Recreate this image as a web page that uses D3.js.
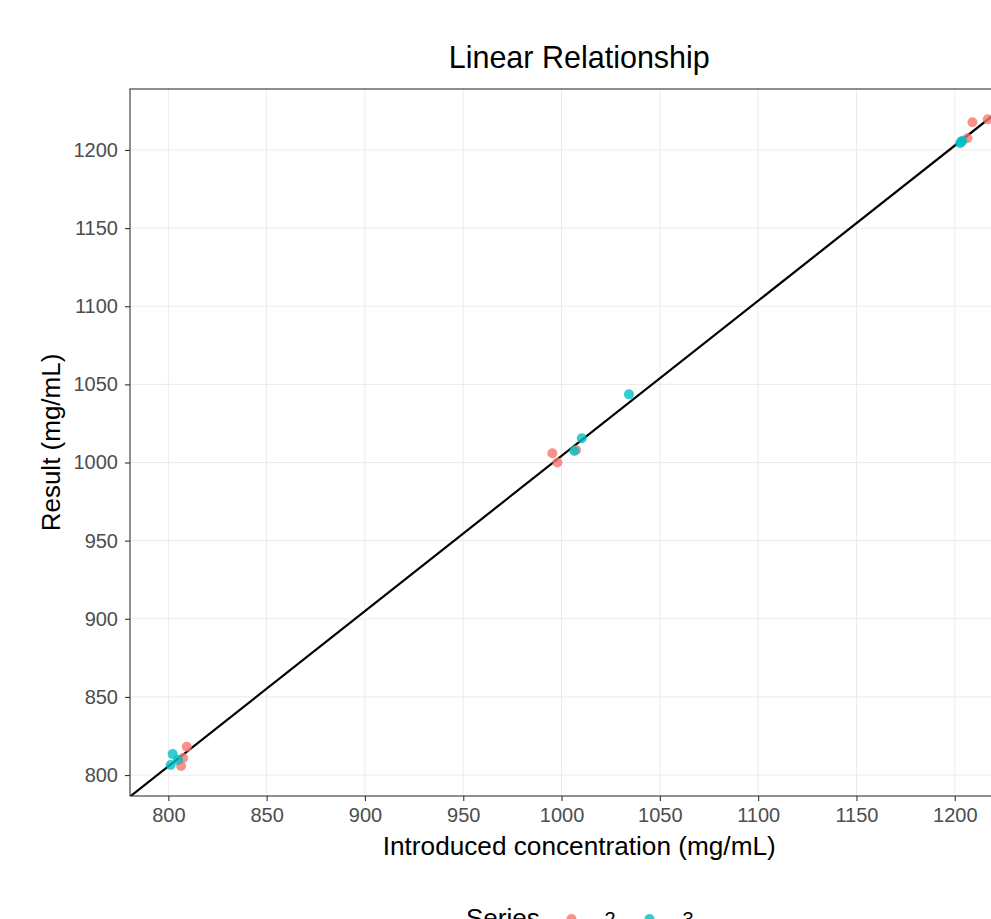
<!DOCTYPE html>
<html>
<head>
<meta charset="utf-8">
<script src="https://cdn.jsdelivr.net/npm/d3@7"></script>
<style>
  html, body { margin: 0; padding: 0; background: #fff; overflow: hidden; }
  svg { display: block; font-family: "Liberation Sans", Arial, sans-serif; }
</style>
</head>
<body>
<div id="chart"></div>
<script>
// Linear relationship scatter — introduced vs. measured concentration

const series = ['2', '3'];
const seriesColors = ['#F8766D', '#00BFC4'];

// introduced concentration (x) and result (y), per series
const series2X = [809.4, 807.5, 806.5, 995.3, 997.9, 1007.4, 1206.4, 1209.0, 1216.8];
const series2Y = [818.1, 810.9, 805.8, 1005.9, 1000.0, 1008.0, 1207.5, 1217.7, 1219.6];
const series3X = [802.2, 804.9, 801.2, 1006.5, 1010.3, 1034.3, 1202.7, 1203.3, 1203.8];
const series3Y = [813.4, 809.6, 806.4, 1007.4, 1015.5, 1043.6, 1204.3, 1205.2, 1205.8];

// fitted line
const fitIntercept = 11.2;
const fitSlope = 0.993;

const xTicks = [800, 850, 900, 950, 1000, 1050, 1100, 1150, 1200];
const yTicks = [800, 850, 900, 950, 1000, 1050, 1100, 1150, 1200];

const width = 1070, height = 919;
const panel = { left: 130, right: 1028.5, top: 89, bottom: 796 };

const svg = d3.select('#chart').append('svg')
  .attr('width', width)
  .attr('height', height);

const x = d3.scaleLinear().domain([780.5, 1237.5]).range([panel.left, panel.right]);
const y = d3.scaleLinear().domain([786.6, 1239]).range([panel.bottom, panel.top]);

svg.append('defs').append('clipPath').attr('id', 'panel-clip')
  .append('rect')
  .attr('x', panel.left).attr('y', panel.top)
  .attr('width', panel.right - panel.left).attr('height', panel.bottom - panel.top);

// grid
const grid = svg.append('g');
grid.selectAll('.gx').data(xTicks).join('line')
  .attr('x1', d => x(d)).attr('x2', d => x(d))
  .attr('y1', panel.top).attr('y2', panel.bottom)
  .attr('stroke', '#EBEBEB').attr('stroke-width', 1);
grid.selectAll('.gy').data(yTicks).join('line')
  .attr('x1', panel.left).attr('x2', panel.right)
  .attr('y1', d => y(d)).attr('y2', d => y(d))
  .attr('stroke', '#EBEBEB').attr('stroke-width', 1);

// fit line
const plot = svg.append('g').attr('clip-path', 'url(#panel-clip)');
const xd = x.domain();
plot.append('line')
  .attr('x1', x(xd[0])).attr('y1', y(fitIntercept + fitSlope * xd[0]))
  .attr('x2', x(xd[1])).attr('y2', y(fitIntercept + fitSlope * xd[1]))
  .attr('stroke', '#000').attr('stroke-width', 2.2);

// points
const points = [
  ...series2X.map((v, i) => ({ s: 0, x: v, y: series2Y[i] })),
  ...series3X.map((v, i) => ({ s: 1, x: v, y: series3Y[i] }))
];
plot.selectAll('circle').data(points).join('circle')
  .attr('cx', d => x(d.x))
  .attr('cy', d => y(d.y))
  .attr('r', 5)
  .attr('fill', d => seriesColors[d.s])
  .attr('fill-opacity', 0.8);

// panel border
svg.append('rect')
  .attr('x', panel.left).attr('y', panel.top)
  .attr('width', panel.right - panel.left).attr('height', panel.bottom - panel.top)
  .attr('fill', 'none').attr('stroke', '#333333').attr('stroke-width', 1.1);

// axes
const xAxis = svg.append('g')
  .attr('transform', `translate(0,${panel.bottom})`)
  .call(d3.axisBottom(x).tickValues(xTicks).tickFormat(d3.format('d')).tickSize(5).tickPadding(7));
const yAxis = svg.append('g')
  .attr('transform', `translate(${panel.left},0)`)
  .call(d3.axisLeft(y).tickValues(yTicks).tickFormat(d3.format('d')).tickSize(5).tickPadding(7));
[xAxis, yAxis].forEach(a => {
  a.select('.domain').remove();
  a.selectAll('.tick line').attr('stroke', '#333333').attr('stroke-width', 1.1);
  a.selectAll('.tick text')
    .attr('fill', '#4D4D4D')
    .attr('font-size', 20)
    .attr('font-family', '"Liberation Sans", Arial, sans-serif');
});

// titles
svg.append('text')
  .attr('x', (panel.left + panel.right) / 2).attr('y', 68)
  .attr('text-anchor', 'middle').attr('font-size', 30.5)
  .text('Linear Relationship');

svg.append('text')
  .attr('x', (panel.left + panel.right) / 2).attr('y', 855)
  .attr('text-anchor', 'middle').attr('font-size', 26.2)
  .text('Introduced concentration (mg/mL)');

svg.append('text')
  .attr('transform', `translate(59.5,${(panel.top + panel.bottom) / 2}) rotate(-90)`)
  .attr('text-anchor', 'middle').attr('font-size', 26)
  .text('Result (mg/mL)');

// legend (bottom)
const legend = svg.append('g');
legend.append('text')
  .attr('x', 466).attr('y', 927).attr('font-size', 26)
  .text('Series');
const keyX = [571.5, 649.5];
series.forEach((s, i) => {
  legend.append('circle')
    .attr('cx', keyX[i]).attr('cy', 919)
    .attr('r', 5)
    .attr('fill', seriesColors[i]).attr('fill-opacity', 0.8);
  legend.append('text')
    .attr('x', keyX[i] + 33).attr('y', 925.5).attr('font-size', 20)
    .text(s);
});
</script>
</body>
</html>
